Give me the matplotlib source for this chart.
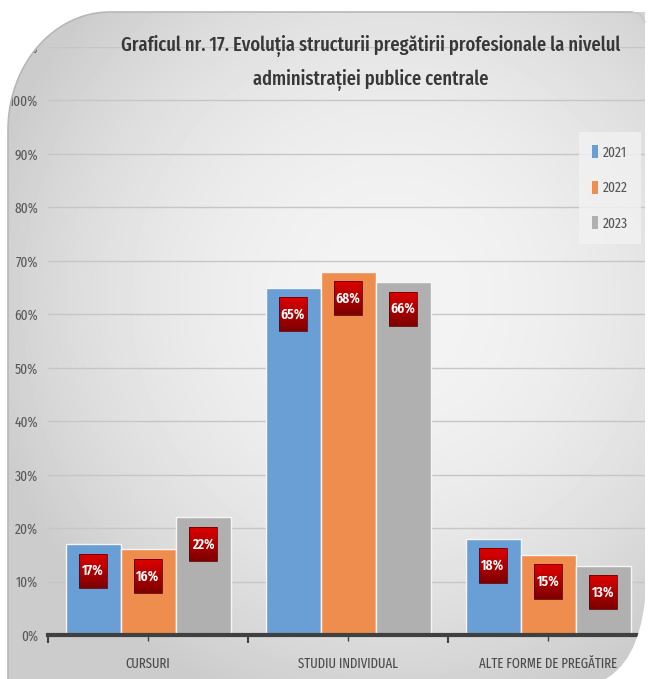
import numpy as np
import matplotlib
matplotlib.use('Agg')
from matplotlib import pyplot as plt
from matplotlib.patches import Rectangle, Polygon, Patch, PathPatch
from matplotlib.path import Path
from matplotlib.colors import LinearSegmentedColormap

plt.rcParams['font.family'] = ['Fira Sans Extra Condensed', 'Carlito', 'DejaVu Sans']

categories = ['CURSURI', 'STUDIU INDIVIDUAL', 'ALTE FORME DE PREGĂTIRE']
years = ['2021', '2022', '2023']
values_2021 = [17, 65, 18]
values_2022 = [16, 68, 15]
values_2023 = [22, 66, 13]
y_ticks = [0, 10, 20, 30, 40, 50, 60, 70, 80, 90, 100, 110]
title = ('Graficul nr. 17. Evoluția structurii pregătirii profesionale la nivelul\n'
         'administrației publice centrale')

colors = ['#6a9fd6', '#ef8d4e', '#b0b0b0']
W, H = 648, 679

fig = plt.figure(figsize=(W / 100, H / 100), dpi=100)
fig.patch.set_facecolor('white')

# soft grey gradient behind the chart
bg = fig.add_axes([0, 0, 1, 1])
bg.set_axis_off()
yy, xx = np.mgrid[0:H, 0:W]
r = np.sqrt(((xx - 390) / 420.0) ** 2 + ((yy - 300) / 430.0) ** 2)
shade = np.clip(0.955 - 0.16 * r ** 2, 0.80, 0.96)
bg.imshow(shade, cmap='gray', vmin=0, vmax=1, extent=[0, W, H, 0], aspect='auto')
bg.set_xlim(0, W)
bg.set_ylim(H, 0)

# main bar chart, positioned in pixel terms
ax = fig.add_axes([48 / W, 44 / H, 600 / W, 588 / H])
ax.patch.set_alpha(0)
x = np.arange(len(categories))
bw = 0.275
red_cmap = LinearSegmentedColormap.from_list('rb', ['#7e0000', '#e00000'])
series = [values_2021, values_2022, values_2023]
for i, (vals, c) in enumerate(zip(series, colors)):
    xs = x + (i - 1) * bw
    ax.bar(xs, vals, width=bw, color=c, edgecolor='#f6f6f6', linewidth=1.0, zorder=3)
    for xv, v in zip(xs, vals):
        cy = v - 5.0
        bw_box, bh_box = 0.14, 6.4
        grad = np.linspace(0, 1, 50).reshape(-1, 1)
        im = ax.imshow(grad, cmap=red_cmap,
                       extent=[xv - bw_box / 2, xv + bw_box / 2, cy - bh_box / 2, cy + bh_box / 2],
                       aspect='auto', origin='lower', zorder=4)
        box = Rectangle((xv - bw_box / 2, cy - bh_box / 2), bw_box, bh_box,
                        facecolor='none', edgecolor='#6a0000', linewidth=0.6, zorder=5)
        ax.add_patch(box)
        im.set_clip_path(box)
        ax.text(xv, cy, f'{v}%', ha='center', va='center', color='white',
                fontsize=10.5, fontweight='semibold', zorder=6)

ax.set_xlim(-0.5, 2.5)
ax.set_ylim(0, 110)
ax.set_yticks(y_ticks)
ax.set_yticklabels([f'{t}%' for t in y_ticks])
ax.yaxis.grid(True, color='#c6c6c6', linewidth=1.0, zorder=0)
ax.tick_params(axis='y', length=0, pad=7, labelsize=10.5, labelcolor='#595959')
ax.set_xticks([-0.5, 0.5, 1.5, 2.5])
ax.set_xticklabels([])
ax.set_xticks(x, minor=True)
ax.set_xticklabels(categories, minor=True)
ax.tick_params(axis='x', which='major', direction='out', length=6, width=1.5, color='#404040')
ax.tick_params(axis='x', which='minor', direction='inout', length=9, width=1.0,
               color='#404040', pad=11, labelsize=10, labelcolor='#4a4a4a')
for s in ['top', 'right', 'left']:
    ax.spines[s].set_visible(False)
ax.spines['bottom'].set_color('#404040')
ax.spines['bottom'].set_linewidth(3)
ax.spines['bottom'].set_zorder(6)

handles = [Patch(facecolor=c, edgecolor='none', label=y) for c, y in zip(colors, years)]
leg = fig.legend(handles=handles, loc='upper right', bbox_to_anchor=(641 / W, 1 - 132 / H),
                 frameon=True, fontsize=10.5, labelspacing=1.45, handlelength=0.45,
                 handleheight=1.0, handletextpad=0.3, borderpad=0.9, borderaxespad=0)
leg.get_frame().set_facecolor('#f2f2f2')
leg.get_frame().set_edgecolor('none')
leg.get_frame().set_boxstyle('square', pad=0)
for t in leg.get_texts():
    t.set_color('#555555')

fig.text(371 / W, 1 - 63 / H, title, ha='center', va='center', fontsize=14.5,
         fontweight='medium', color='#383838', linespacing=1.75)

# white corners outside the rounded frame
ov = fig.add_axes([0, 0, 1, 1])
ov.set_zorder(10)
ov.patch.set_alpha(0)
ov.set_axis_off()
ov.set_xlim(0, W)
ov.set_ylim(H, 0)
t = np.linspace(0, np.pi / 2, 40)
tl = np.column_stack([110 - 102 * np.cos(t), 130 - 118 * np.sin(t)])
ov.add_patch(Polygon(np.vstack([[[0, 140], [0, 0], [125, 0], [125, 12]], tl[::-1]]),
                     closed=True, facecolor='white', edgecolor='none'))
ov.add_patch(Rectangle((0, 0), W, 12, facecolor='white', edgecolor='none'))
ov.add_patch(Rectangle((0, 0), 8, H, facecolor='white', edgecolor='none'))
ov.add_patch(Rectangle((645, 0), 10, 600, facecolor='white', edgecolor='none'))
verts = [(645, 600), (638, 665), (600, 682), (W, H + 5), (W + 5, 600), (645, 600)]
codes = [Path.MOVETO, Path.CURVE3, Path.CURVE3, Path.LINETO, Path.LINETO, Path.CLOSEPOLY]
ov.add_patch(PathPatch(Path(verts, codes), facecolor='white', edgecolor='none'))
# frame edge
ov.plot(np.r_[8, tl[:, 0], 632], np.r_[H, tl[:, 1], 12], color='#b8b8b8', lw=1.2)
ov.plot([632, 640, 645], [12, 14, 22], color='#c8c8c8', lw=1.0)

fig.savefig('out.png', dpi=100)
